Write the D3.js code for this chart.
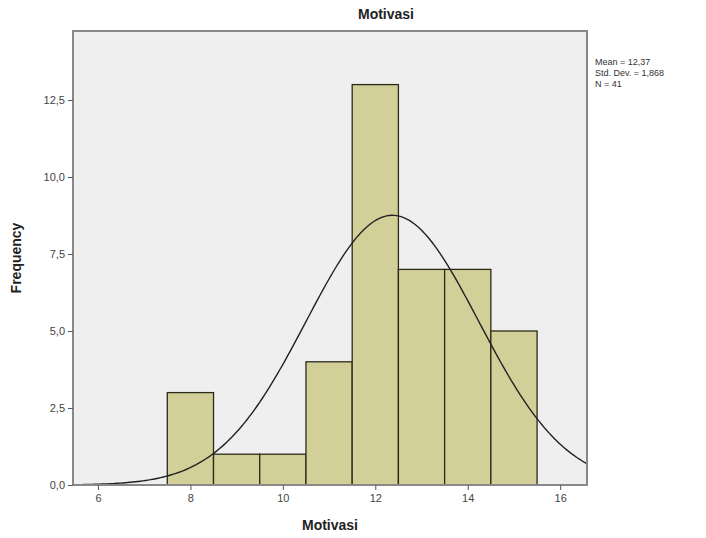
<!DOCTYPE html>
<html>
<head>
<meta charset="utf-8">
<script src="https://cdnjs.cloudflare.com/ajax/libs/d3/7.8.5/d3.min.js"></script>
<style>
  body { margin: 0; background: #fff; font-family: "Liberation Sans", Arial, sans-serif; }
  .axis path, .axis line { stroke: #555; }
  .axis text { fill: #444; font-size: 11px; }
</style>
</head>
<body>
<div id="chart"></div>
<script>
var width = 706;
var height = 538;

// histogram bins (bin start, bin end, count)
var binStarts = [7.5, 8.5, 9.5, 10.5, 11.5, 12.5, 13.5, 14.5];
var binEnds = [8.5, 9.5, 10.5, 11.5, 12.5, 13.5, 14.5, 15.5];
var counts = [3, 1, 1, 4, 13, 7, 7, 5];

var xTicks = [6, 8, 10, 12, 14, 16];
var yTicks = [0, 2.5, 5, 7.5, 10, 12.5];

var mean = 12.37;
var sd = 1.868;
var n = 41;
var statLines = ["Mean = 12,37", "Std. Dev. = 1,868", "N = 41"];

var locale = d3.formatLocale({ decimal: ",", thousands: ".", grouping: [3], currency: ["", ""] });
var fmt1 = locale.format(".1f");

var svg = d3.select("#chart").append("svg")
  .attr("width", width)
  .attr("height", height);

// plot frame (window.top is reserved, so use plot* names)
var plotLeft = 73, plotRight = 587, plotTop = 31, plotBottom = 485;

var xScale = d3.scaleLinear().domain([5.46, 16.58]).range([plotLeft, plotRight]);
var yScale = d3.scaleLinear().domain([0, 14.74]).range([plotBottom, plotTop]);

// plot background
svg.append("rect")
  .attr("x", plotLeft).attr("y", plotTop)
  .attr("width", plotRight - plotLeft).attr("height", plotBottom - plotTop)
  .attr("fill", "#efefef");

// bars
svg.append("g").selectAll("rect")
  .data(counts)
  .enter()
  .append("rect")
  .attr("x", function (d, i) { return xScale(binStarts[i]); })
  .attr("y", function (d) { return yScale(d); })
  .attr("width", function (d, i) { return xScale(binEnds[i]) - xScale(binStarts[i]); })
  .attr("height", function (d) { return plotBottom - yScale(d); })
  .attr("fill", "#d3cf98")
  .attr("stroke", "#2b2b1a")
  .attr("stroke-width", 1.3);

// normal curve
var curvePts = d3.range(0, 201).map(function (k) {
  var x = 5.6 + k * (16.58 - 5.6) / 200;
  var y = n * 1 / (sd * Math.sqrt(2 * Math.PI)) * Math.exp(-0.5 * Math.pow((x - mean) / sd, 2));
  return [x, y];
});
svg.append("path")
  .datum(curvePts)
  .attr("fill", "none")
  .attr("stroke", "#222")
  .attr("stroke-width", 1.4)
  .attr("d", d3.line()
    .x(function (d) { return xScale(d[0]); })
    .y(function (d) { return yScale(d[1]); }));

// frame
svg.append("rect")
  .attr("x", plotLeft).attr("y", plotTop)
  .attr("width", plotRight - plotLeft).attr("height", plotBottom - plotTop)
  .attr("fill", "none")
  .attr("stroke", "#888")
  .attr("stroke-width", 2);

// axes
var xAxis = d3.axisBottom(xScale).tickValues(xTicks).tickSize(5).tickPadding(4).tickFormat(d3.format("d"));
var yAxis = d3.axisLeft(yScale).tickValues(yTicks).tickSize(5).tickPadding(3).tickFormat(fmt1);

svg.append("g")
  .attr("class", "axis")
  .attr("transform", "translate(0," + plotBottom + ")")
  .call(xAxis)
  .call(function (g) { g.select(".domain").remove(); });

svg.append("g")
  .attr("class", "axis")
  .attr("transform", "translate(" + plotLeft + ",0)")
  .call(yAxis)
  .call(function (g) { g.select(".domain").remove(); });

// title
svg.append("text")
  .attr("x", 386)
  .attr("y", 19)
  .attr("text-anchor", "middle")
  .attr("font-size", "14px")
  .attr("font-weight", "bold")
  .attr("fill", "#222")
  .text("Motivasi");

// axis labels
svg.append("text")
  .attr("x", 330)
  .attr("y", 530)
  .attr("text-anchor", "middle")
  .attr("font-size", "14px")
  .attr("font-weight", "bold")
  .attr("fill", "#222")
  .text("Motivasi");

svg.append("text")
  .attr("transform", "translate(21,258) rotate(-90)")
  .attr("text-anchor", "middle")
  .attr("font-size", "14px")
  .attr("font-weight", "bold")
  .attr("fill", "#222")
  .text("Frequency");

// stats
svg.append("g").selectAll("text")
  .data(statLines)
  .enter()
  .append("text")
  .attr("x", 595)
  .attr("y", function (d, i) { return 65 + i * 11; })
  .attr("font-size", "9px")
  .attr("fill", "#333")
  .text(function (d) { return d; });
</script>
</body>
</html>
